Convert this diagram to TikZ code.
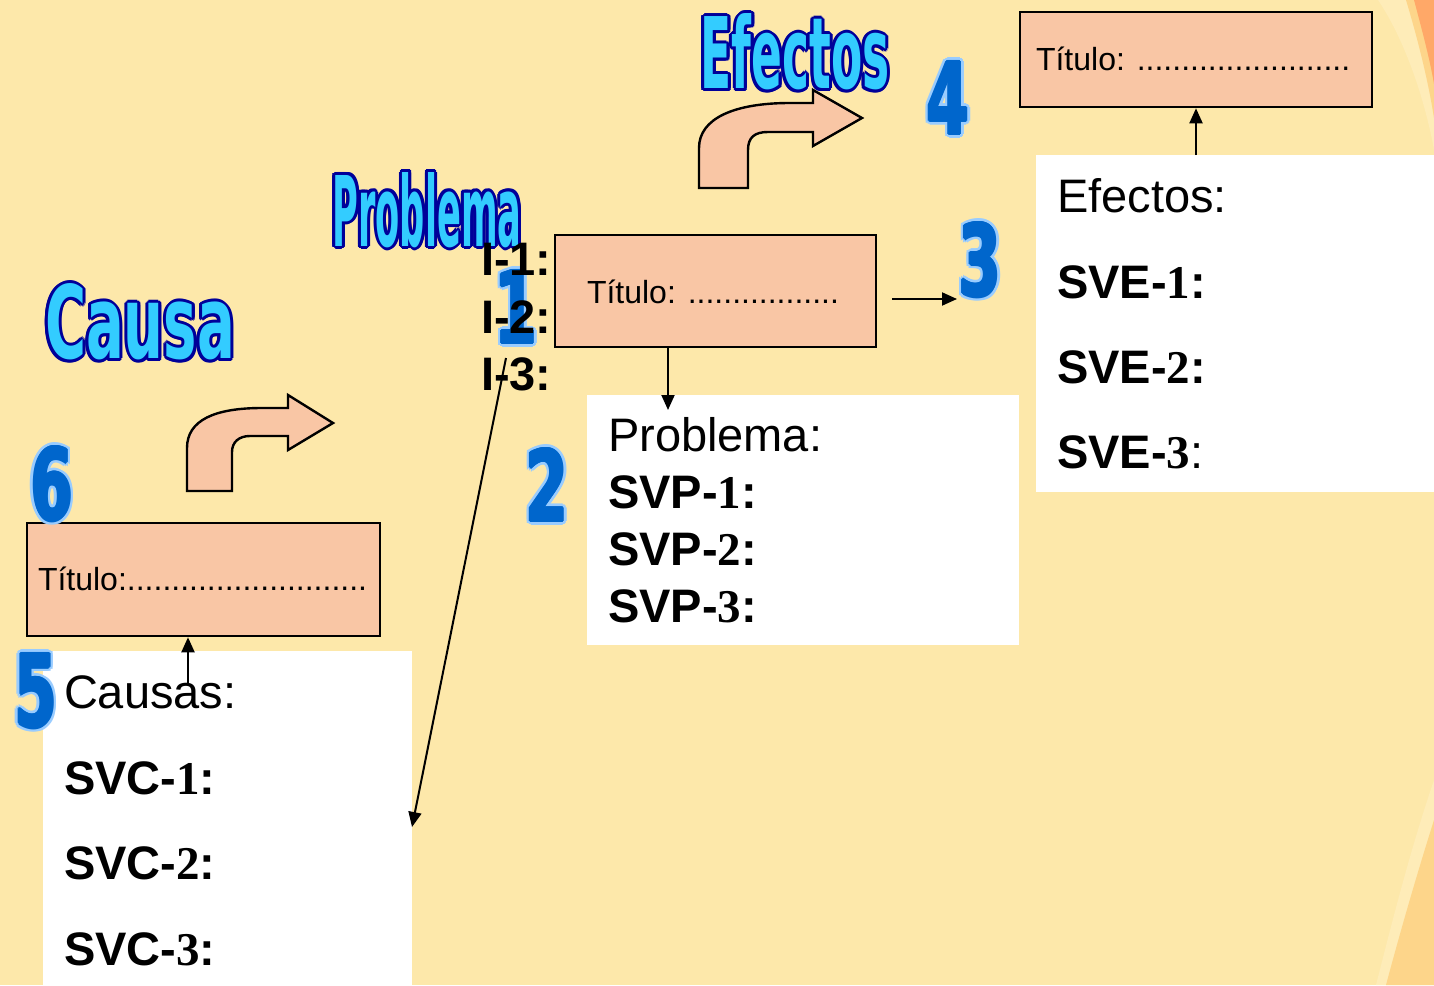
\documentclass[tikz,border=0pt]{standalone}
\usepackage{fontspec}
\setmainfont{Liberation Sans}
\newfontfamily\tnr{Liberation Serif}
\newfontfamily\wafont{DejaVu Sans}
\usepackage{graphicx}
\usetikzlibrary{arrows.meta,calc}
\definecolor{bg}{RGB}{253,232,170}
\definecolor{pale}{RGB}{254,236,184}
\definecolor{medor}{RGB}{253,213,138}
\definecolor{darkor}{RGB}{255,168,104}
\definecolor{salmon}{RGB}{249,198,165}
\definecolor{wafill}{RGB}{51,204,255}
\definecolor{wadark}{RGB}{0,0,153}
\definecolor{numfill}{RGB}{0,102,204}
\definecolor{numlight}{RGB}{153,204,255}
\newcommand\fbig{\fontsize{23.5}{28}\selectfont}
\newcommand\ftit{\fontsize{16}{19}\selectfont}
\newcommand\wordart[6]{%
  \foreach \a in {0,30,...,330}{\node[wat,text=wadark] at ([shift={(\a:3)}]#2,#3) {\resizebox{#4}{#5}{#6}};}
  \node[wat,text=wafill] (#1) at (#2,#3) {\resizebox{#4}{#5}{#6}};}
\newcommand\bignum[4]{%
  \foreach \a in {0,30,...,330}{\node[wat,text=numlight] at ([shift={(\a:4)}]#2,#3) {\resizebox{21pt}{36.5pt}{#4}};}
  \foreach \a in {0,45,...,315}{\node[wat,text=numfill] at ([shift={(\a:1.3)}]#2,#3) {\resizebox{21pt}{36.5pt}{#4}};}
  \node[wat,text=numfill] (#1) at (#2,#3) {\resizebox{21pt}{36.5pt}{#4}};}
\tikzset{
  wat/.style={inner sep=0pt,outer sep=0pt,font=\wafont\bfseries},
  lbl/.style={anchor=base west,inner sep=0pt,outer sep=0pt},
  tbox/.style={draw=black,fill=salmon,line width=1.3pt,inner sep=0pt},
  wbox/.style={fill=white,inner sep=0pt,outer sep=0pt},
  blockarrow/.style={fill=salmon,draw=black,line width=1.2pt,line join=miter},
  arr/.style={draw=black,line width=1pt,-{Triangle[length=7.5pt,width=6.5pt]}}
}
\begin{document}
\begin{tikzpicture}[x=0.5pt,y=-0.5pt]
\useasboundingbox (0,0) rectangle (1434,985);
\fill[bg] (0,0) rectangle (1434,985);
% corner decorations
\fill[pale] (1378,0) .. controls (1405,40) and (1425,100) .. (1434,150) -- (1434,0) -- cycle;
\fill[medor] (1406,0) .. controls (1418,40) and (1428,80) .. (1434,118) -- (1434,0) -- cycle;
\fill[darkor] (1414,0) .. controls (1422,30) and (1430,60) .. (1434,84) -- (1434,0) -- cycle;
\fill[pale] (1434,780) .. controls (1410,850) and (1390,930) .. (1376,985) -- (1434,985) -- cycle;
\fill[medor] (1434,820) .. controls (1415,880) and (1398,940) .. (1386,985) -- (1434,985) -- cycle;
% white boxes
\node[wbox,minimum width=199pt,minimum height=168.5pt] (wEf) at (1235,323.5) {};
\node[wbox,minimum width=216pt,minimum height=125pt] (wPr) at (803,520) {};
\node[wbox,minimum width=184.5pt,minimum height=169.5pt] (wCa) at (227.5,820.5) {};
% word art
\wordart{waEf}{795}{52}{94.5pt}{37.5pt}{Efectos}
\wordart{waPr}{427}{210}{94.5pt}{37pt}{Problema}
\wordart{waCa}{140}{322}{95pt}{37.5pt}{Causa}
% block arrows
\draw[blockarrow] (699,188) -- (699,148) .. controls (699,118) and (735,103) .. (790,103)
  -- (813,103) -- (813,90) -- (862,118) -- (813,146) -- (813,132) -- (768,132)
  .. controls (755,132) and (748,137) .. (748,150) -- (748,188) -- cycle;
\draw[blockarrow] (187,491) -- (187,448) .. controls (187,420) and (215,408) .. (262,408)
  -- (288,408) -- (288,395) -- (333,423) -- (288,450) -- (288,436) -- (250,436)
  .. controls (239,436) and (232,442) .. (232,452) -- (232,491) -- cycle;
% title boxes
\node[tbox,minimum width=176pt,minimum height=47.5pt] (tEf) at (1196,59.5) {};
\node[tbox,minimum width=160.5pt,minimum height=56pt] (tPr) at (715.5,291) {};
\node[tbox,minimum width=176.5pt,minimum height=56.5pt] (tCa) at (203.5,579.5) {};
\node[lbl,font=\ftit] (ttEf) at (1036,70) {Título: ........................};
\node[lbl,font=\ftit] (ttPr) at (587,303) {Título: .................};
\node[lbl,font=\ftit] (ttCa) at (38,590) {Título:...........................};
% big numbers
\bignum{n4}{948}{98}{4}
\bignum{n3}{980}{260}{3}
\bignum{n2}{547}{485}{2}
\bignum{n1}{516}{307}{1}
\bignum{n6}{52}{484}{6}
% texts
\node[lbl,font=\fbig\bfseries] (i1) at (481,275) {I-1:};
\node[lbl,font=\fbig\bfseries] (i2) at (481,333) {I-2:};
\node[lbl,font=\fbig\bfseries] (i3) at (481,390) {I-3:};
\node[lbl,font=\fbig] (e0) at (1057,212) {Efectos:};
\node[lbl,font=\fbig\bfseries] (e1) at (1057,298) {SVE-{\tnr 1}:};
\node[lbl,font=\fbig\bfseries] (e2) at (1057,383) {SVE-{\tnr 2}:};
\node[lbl,font=\fbig\bfseries] (e3) at (1057,468) {SVE-{\tnr 3}{\mdseries :}};
\node[lbl,font=\fbig] (p0) at (608,451) {Problema:};
\node[lbl,font=\fbig\bfseries] (p1) at (608,508) {SVP-{\tnr 1}:};
\node[lbl,font=\fbig\bfseries] (p2) at (608,565) {SVP-{\tnr 2}:};
\node[lbl,font=\fbig\bfseries] (p3) at (608,622) {SVP-{\tnr 3}:};
\node[lbl,font=\fbig] (c0) at (64,708) {Causas:};
\node[lbl,font=\fbig\bfseries] (c1) at (64,794) {SVC-{\tnr 1}:};
\node[lbl,font=\fbig\bfseries] (c2) at (64,879) {SVC-{\tnr 2}:};
\node[lbl,font=\fbig\bfseries] (c3) at (64,965) {SVC-{\tnr 3}:};
\bignum{n5}{36}{691}{5}
% connectors
\coordinate (pd) at (668,410);
\coordinate (ra1) at (892,299);
\coordinate (ra2) at (957,299);
\coordinate (cu) at (188,684);
\coordinate (la1) at (506,358);
\coordinate (la2) at (412,827);
\draw[arr] (tEf.south |- wEf.north) -- (tEf.south);
\draw[arr] (pd |- tPr.south) -- (pd);
\draw[arr] (ra1) -- (ra2);
\draw[arr] (cu) -- (cu |- tCa.south);
\draw[arr] (la1) -- (la2);
\end{tikzpicture}
\end{document}
